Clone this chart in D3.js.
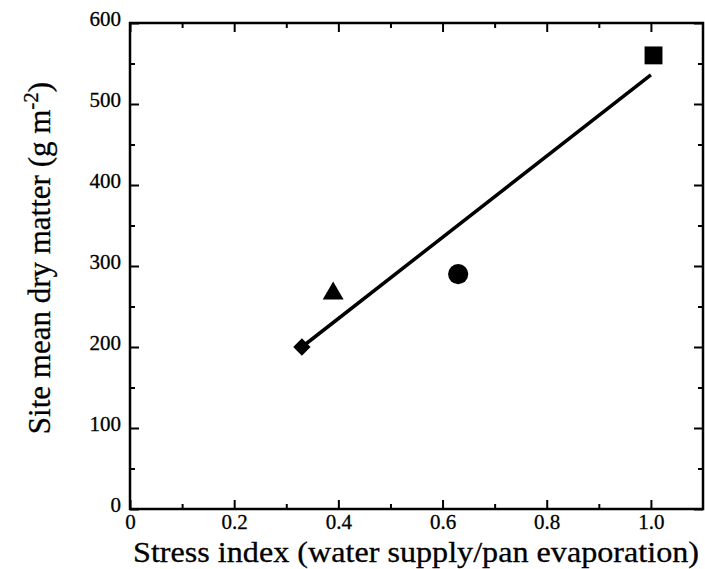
<!DOCTYPE html>
<html>
<head>
<meta charset="utf-8">
<script src="https://cdn.jsdelivr.net/npm/d3@7"></script>
<style>
  body { margin: 0; background: #fff; }
  text { font-family: "Liberation Serif", "Times New Roman", serif; fill: #000; }
</style>
</head>
<body>
<div id="chart"></div>
<script>
// site means
var stressIndex = [0.33, 0.39, 0.63, 1.005]
var dryMatter = [200, 266, 290, 560]
var markers = ['diamond', 'triangle', 'circle', 'square']
// fitted regression line endpoints
var fitX = [0.33, 1.0]
var fitY = [200, 536]
var xTicks = [0, 0.2, 0.4, 0.6, 0.8, 1.0]
var yTicks = [0, 100, 200, 300, 400, 500, 600]

var W = 705, H = 569
var m = { left: 130, top: 23, right: 2, bottom: 60 }
var pw = W - m.left - m.right, ph = H - m.top - m.bottom

var svg = d3.select('#chart').append('svg').attr('width', W).attr('height', H)
var g = svg.append('g').attr('transform', 'translate(' + m.left + ',' + m.top + ')')

var x = d3.scaleLinear().domain([0, 1.1]).range([0, pw])
var y = d3.scaleLinear().domain([0, 600]).range([ph, 0])

var fmtX = function(d) { return d === 0 ? '0' : d3.format('.1f')(d) }

// inward ticks on all four sides, minor ticks shorter
function tickSide(axisFn, scale, vals, len, fmt) {
  return axisFn(scale).tickValues(vals).tickSizeInner(-len).tickSizeOuter(0).tickFormat(fmt)
}
var xMinor = d3.range(0.1, 1.1, 0.2)
var yMinor = d3.range(50, 600, 100)

var xb = g.append('g').attr('transform', 'translate(0,' + ph + ')').call(tickSide(d3.axisBottom, x, xTicks, 9, fmtX))
g.append('g').attr('transform', 'translate(0,' + ph + ')').call(tickSide(d3.axisBottom, x, xMinor, 5, ''))
g.append('g').call(tickSide(d3.axisTop, x, xTicks, 9, ''))
g.append('g').call(tickSide(d3.axisTop, x, xMinor, 5, ''))
var yl = g.append('g').call(tickSide(d3.axisLeft, y, yTicks, 9, d3.format('d')))
g.append('g').call(tickSide(d3.axisLeft, y, yMinor, 5, ''))
g.append('g').attr('transform', 'translate(' + pw + ',0)').call(tickSide(d3.axisRight, y, yTicks, 9, ''))
g.append('g').attr('transform', 'translate(' + pw + ',0)').call(tickSide(d3.axisRight, y, yMinor, 5, ''))

g.selectAll('.domain').remove()
g.selectAll('.tick line').attr('stroke', '#000').attr('stroke-width', 2)
xb.selectAll('.tick text').attr('font-size', 21).attr('y', 20).attr('dy', 0)
  .attr('stroke', '#000').attr('stroke-width', 0.3)
yl.selectAll('.tick text').attr('font-size', 21).attr('x', -9).attr('dy', '0.1em')
  .attr('stroke', '#000').attr('stroke-width', 0.3)

g.append('rect').attr('width', pw).attr('height', ph)
  .attr('fill', 'none').attr('stroke', '#000').attr('stroke-width', 2.5)

// regression line
g.append('path')
  .attr('d', d3.line().x(function(d, i) { return x(d) }).y(function(d, i) { return y(fitY[i]) })(fitX))
  .attr('stroke', '#000').attr('stroke-width', 3.5).attr('fill', 'none')

var symbols = {
  diamond: d3.symbolSquare,
  triangle: d3.symbolTriangle,
  circle: d3.symbolCircle,
  square: d3.symbolSquare
}
var sizes = { diamond: 150, triangle: 190, circle: 320, square: 320 }

g.selectAll('.pt').data(stressIndex).enter().append('path')
  .attr('class', 'pt')
  .attr('d', function(d, i) { return d3.symbol().type(symbols[markers[i]]).size(sizes[markers[i]])() })
  .attr('transform', function(d, i) {
    var t = 'translate(' + x(d) + ',' + y(dryMatter[i]) + ')'
    return markers[i] === 'diamond' ? t + ' rotate(45)' : t
  })
  .attr('fill', '#000')

// axis titles
svg.append('text')
  .attr('x', 133).attr('y', 562)
  .attr('font-size', 30)
  .attr('textLength', 566).attr('lengthAdjust', 'spacingAndGlyphs')
  .attr('stroke', '#000').attr('stroke-width', 0.3)
  .text('Stress index (water supply/pan evaporation)')

var yt = svg.append('text')
  .attr('transform', 'translate(50,258) rotate(-90)')
  .attr('text-anchor', 'middle').attr('font-size', 31)
  .attr('stroke', '#000').attr('stroke-width', 0.3)
yt.append('tspan').text('Site mean dry matter (g m')
yt.append('tspan').attr('baseline-shift', 'super').attr('font-size', 21).text('-2')
yt.append('tspan').text(')')
</script>
</body>
</html>
